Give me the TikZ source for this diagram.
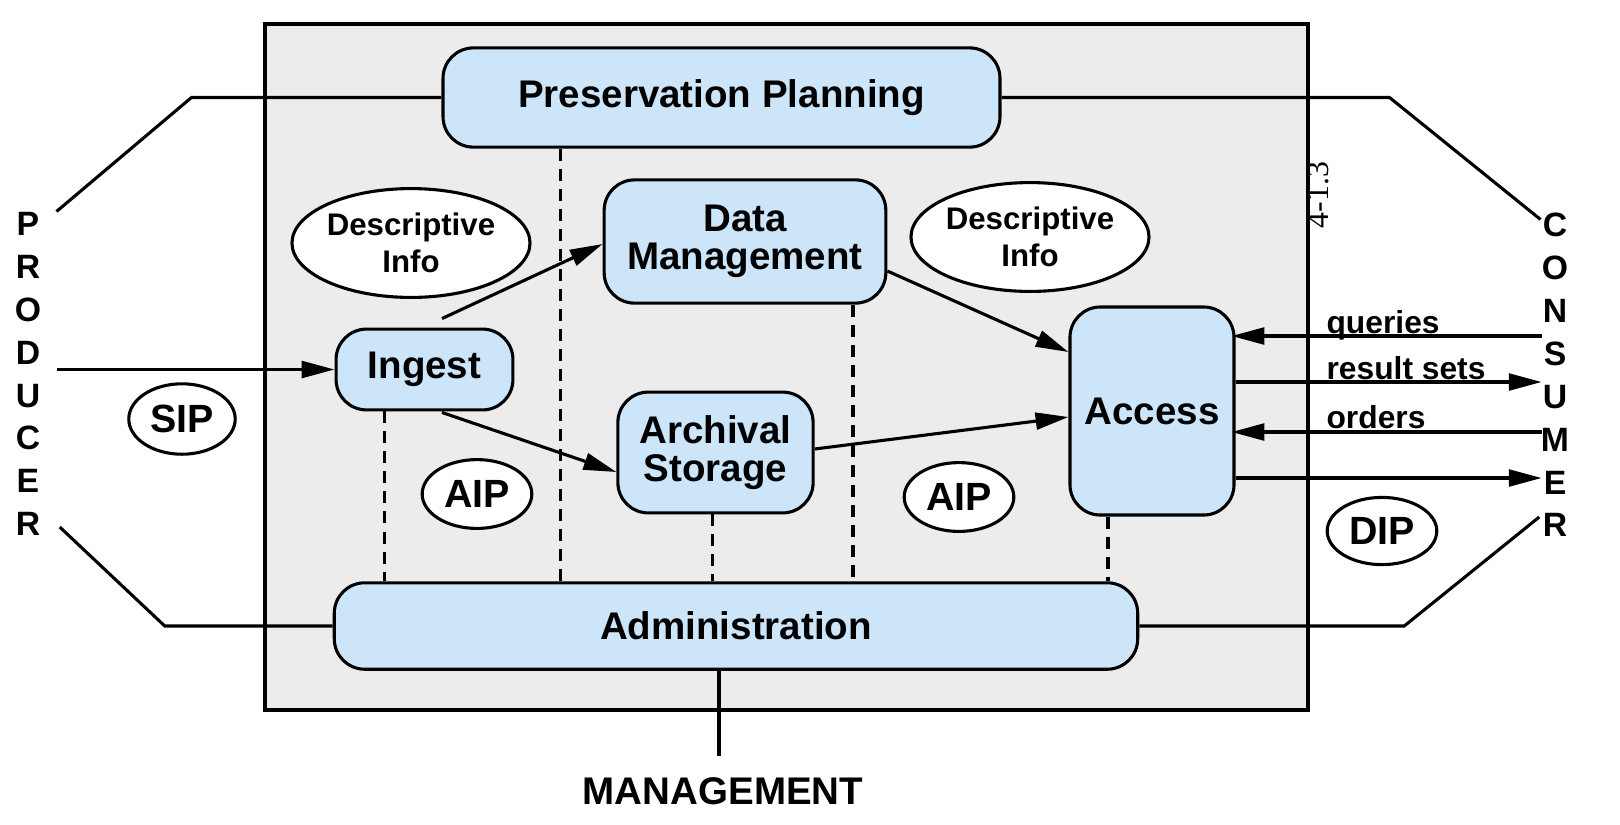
\documentclass[tikz,border=0pt]{standalone}
\usepackage{fontspec}
\setmainfont{Liberation Sans}
\newfontfamily\timesfont{Liberation Serif}
\usetikzlibrary{arrows.meta,shapes.geometric}
\definecolor{oaisblue}{RGB}{204,229,249}
\definecolor{oaisgray}{RGB}{236,236,236}

\begin{document}
\begin{tikzpicture}[x=0.0125cm, y=-0.0125cm, line width=1.1pt,
	>={Triangle[length=0.41cm,width=0.21cm]},
	func/.style={draw, fill=oaisblue, rounded corners=0.38cm, align=center, inner sep=0pt, font=\fontsize{13.7}{13.5}\selectfont\bfseries},
	pkg/.style={draw, fill=white, ellipse, inner sep=0pt, font=\fontsize{14}{14}\selectfont\bfseries},
	info/.style={draw, fill=white, ellipse, inner sep=0pt, align=center, font=\fontsize{11.1}{13.2}\selectfont\bfseries},
	flow/.style={anchor=base west, inner sep=0pt, font=\fontsize{11.3}{12}\selectfont\bfseries},
	side/.style={align=center, font=\fontsize{12}{15.25}\selectfont\bfseries},
	dashline/.style={dash pattern=on 0.15cm off 0.1cm}]
	% 1. frame of the archive
	\useasboundingbox (0,0) rectangle (1620,824);
	\draw[fill=oaisgray] (265,24) rectangle (1308,710);
	
	% 2. functional entities
	\node[func, minimum width=6.96cm, minimum height=1.24cm] (pp) at (721.5,97.5) {Preservation Planning};
	\node[func, minimum width=3.52cm, minimum height=1.54cm] (dm) at (745,241.5) {Data\\Management};
	\node[func, minimum width=2.21cm, minimum height=1.01cm] (ingest) at (424.5,369.5) {Ingest};
	\node[func, minimum width=2.44cm, minimum height=1.51cm] (archival) at (715.5,452.5) {Archival\\Storage};
	\node[func, minimum width=2.05cm, minimum height=2.6cm] (access) at (1152,411) {Access};
	\node[func, minimum width=10.04cm, minimum height=1.08cm] (admin) at (736,626) {Administration};
	
	% 3. information packages
	\node[info, minimum width=2.66cm, minimum height=1.36cm] (descL) at (411,243) {Descriptive\\Info};
	\node[info, minimum width=2.7cm, minimum height=1.36cm] (descR) at (1030,237) {Descriptive\\Info};
	\node[pkg, minimum width=1.33cm, minimum height=0.88cm] (sip) at (182,419) {SIP};
	\node[pkg, minimum width=1.37cm, minimum height=0.86cm] (aipL) at (477,494) {AIP};
	\node[pkg, minimum width=1.37cm, minimum height=0.86cm] (aipR) at (959,497) {AIP};
	\node[pkg, minimum width=1.37cm, minimum height=0.84cm] (dip) at (1382,531) {DIP};
	
	% 4. outside entities and figure number
	\node[side] (producer) at (28,374) {P\\R\\O\\D\\U\\C\\E\\R};
	\node[side] (consumer) at (1555,375) {C\\O\\N\\S\\U\\M\\E\\R};
	\node[font=\fontsize{13.7}{14}\selectfont\bfseries] (mgmt) at (723,791) {MANAGEMENT};
	\node[rotate=90, font=\fontsize{11.3}{12}\selectfont\timesfont] (figno) at (1318,195) {4-1.3};
	
	% 5. boundary lines to the outside entities
	\draw (pp.west) -- ++(-250,0) -- ++(-135,114);
	\draw (pp.east) -- ++(388,0) -- ++(151,122);
	\draw (admin.west) -- ++(-168,0) -- ++(-105,-99);
	\draw (admin.east) -- ++(265,0) -- ++(135,-109);
	\draw ([shift={(-17,0)}]admin.south) -- ++(0,85);
	
	% 6. dashed links to administration
	\foreach \n/\dx in {ingest/-40, pp/-161, archival/-3, dm/108, access/-44}{
		\coordinate (dtop) at ([shift={(\dx,0)}]\n.south);
		\draw[dashline] (dtop) -- (dtop |- admin.north);
	}
	
	% 7. flows
	\draw[->] ([shift={(-278,0)}]ingest.west) -- (ingest.west);
	\draw[->] ([shift={(17.5,-9)}]ingest.north) -- ([shift={(0,2.5)}]dm.west);
	\draw[->] ([shift={(17.5,1)}]ingest.south) -- ([shift={(0,19.5)}]archival.west);
	\draw[->] ([shift={(0,29.5)}]dm.east) -- ([shift={(0,-59)}]access.west);
	\draw[->] ([shift={(0,-3.5)}]archival.east) -- ([shift={(0,6)}]access.west);
	\draw[->] ([shift={(306,-75)}]access.east) -- ([shift={(-4,-75)}]access.east);
	\draw[->] ([shift={(0,-29)}]access.east) -- ++(306,0);
	\draw[->] ([shift={(306,21)}]access.east) -- ([shift={(-4,21)}]access.east);
	\draw[->] ([shift={(0,67)}]access.east) -- ++(306,0);
	\node[flow] (queries) at (1325,333) {queries};
	\node[flow] (results) at (1325,379) {result sets};
	\node[flow] (orders) at (1325,428) {orders};
\end{tikzpicture}
\end{document}
